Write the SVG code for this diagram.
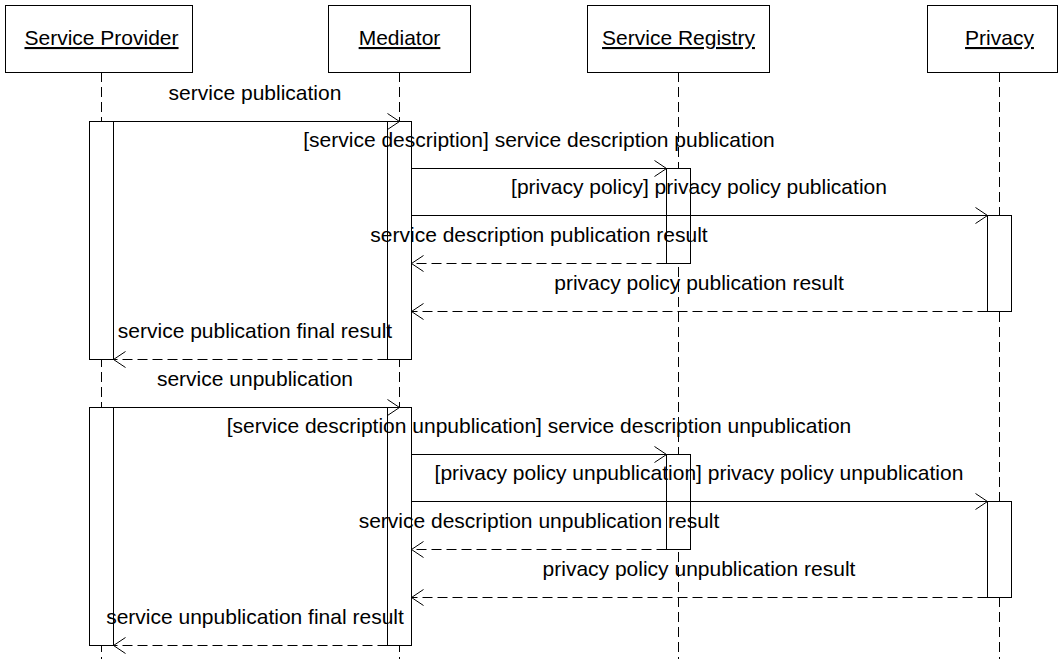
<svg xmlns="http://www.w3.org/2000/svg" width="1060" height="659" viewBox="0 0 1060 659">
<style>
  .head{fill:#fff;stroke:#000;stroke-width:1}
  .life{stroke:#000;stroke-width:1;stroke-dasharray:10,5;fill:none}
  .act{fill:#fff;stroke:#000;stroke-width:1}
  .msg{stroke:#000;stroke-width:1;fill:none;marker-end:url(#open)}
  .ret{stroke:#000;stroke-width:1;fill:none;stroke-dasharray:10,5;marker-end:url(#open)}
  text{font-family:"Liberation Sans",Arial,sans-serif;font-size:21px;fill:#000}
  .name{text-anchor:middle;text-decoration:underline}
  .lbl{text-anchor:middle}
</style>
<defs>
  <marker id="open" markerUnits="userSpaceOnUse" viewBox="0 0 14 18" markerWidth="14" markerHeight="18" refX="13" refY="9" orient="auto">
    <path d="M1,1 L13,9 L1,17" fill="none" stroke="#000" stroke-width="1" stroke-dasharray="none"/>
  </marker>
</defs>
<rect width="1060" height="659" fill="#fff"/>

<g id="service-provider">
  <line class="life" x1="101.5" y1="72" x2="101.5" y2="659"/>
  <rect class="head" x="5.5" y="5.5" width="187" height="67"/>
  <text class="name" x="101.5" y="45">Service Provider</text>
  <rect class="act" x="89.5" y="121.5" width="24" height="238"/>
  <rect class="act" x="89.5" y="407.5" width="24" height="238"/>
</g>

<g id="mediator">
  <line class="life" x1="399.5" y1="72" x2="399.5" y2="659"/>
  <rect class="head" x="328.5" y="5.5" width="142" height="67"/>
  <text class="name" x="399.5" y="45">Mediator</text>
  <rect class="act" x="387.5" y="121.5" width="24" height="238"/>
  <rect class="act" x="387.5" y="407.5" width="24" height="238"/>
</g>

<g id="service-registry">
  <line class="life" x1="678.5" y1="72" x2="678.5" y2="659"/>
  <rect class="head" x="587.5" y="5.5" width="182" height="67"/>
  <text class="name" x="678.5" y="45">Service Registry</text>
  <rect class="act" x="666.5" y="168.5" width="24" height="95"/>
  <rect class="act" x="666.5" y="454.5" width="24" height="95"/>
</g>

<g id="privacy">
  <line class="life" x1="999.5" y1="72" x2="999.5" y2="659"/>
  <rect class="head" x="927.5" y="5.5" width="130" height="67"/>
  <text class="name" x="999.5" y="45">Privacy</text>
  <rect class="act" x="987.5" y="215.5" width="24" height="96"/>
  <rect class="act" x="987.5" y="501.5" width="24" height="96"/>
</g>

<g id="connectors">
  <line class="msg" x1="113.5" y1="121.5" x2="399.5" y2="121.5"/>
  <line class="msg" x1="411.5" y1="168.5" x2="666.5" y2="168.5"/>
  <line class="msg" x1="411.5" y1="215.5" x2="987.5" y2="215.5"/>
  <line class="ret" x1="666.5" y1="263.5" x2="411.5" y2="263.5"/>
  <line class="ret" x1="987.5" y1="311.5" x2="411.5" y2="311.5"/>
  <line class="ret" x1="387.5" y1="359.5" x2="113.5" y2="359.5"/>

  <line class="msg" x1="113.5" y1="407.5" x2="399.5" y2="407.5"/>
  <line class="msg" x1="411.5" y1="454.5" x2="666.5" y2="454.5"/>
  <line class="msg" x1="411.5" y1="501.5" x2="987.5" y2="501.5"/>
  <line class="ret" x1="666.5" y1="549.5" x2="411.5" y2="549.5"/>
  <line class="ret" x1="987.5" y1="597.5" x2="411.5" y2="597.5"/>
  <line class="ret" x1="387.5" y1="645.5" x2="113.5" y2="645.5"/>

  <text class="lbl" x="255" y="100">service publication</text>
  <text class="lbl" x="539" y="147">[service description] service description publication</text>
  <text class="lbl" x="699" y="194">[privacy policy] privacy policy publication</text>
  <text class="lbl" x="539" y="242">service description publication result</text>
  <text class="lbl" x="699" y="290">privacy policy publication result</text>
  <text class="lbl" x="255" y="338">service publication final result</text>

  <text class="lbl" x="255" y="386">service unpublication</text>
  <text class="lbl" x="539" y="433">[service description unpublication] service description unpublication</text>
  <text class="lbl" x="699" y="480">[privacy policy unpublication] privacy policy unpublication</text>
  <text class="lbl" x="539" y="528">service description unpublication result</text>
  <text class="lbl" x="699" y="576">privacy policy unpublication result</text>
  <text class="lbl" x="255" y="624">service unpublication final result</text>
</g>
</svg>
